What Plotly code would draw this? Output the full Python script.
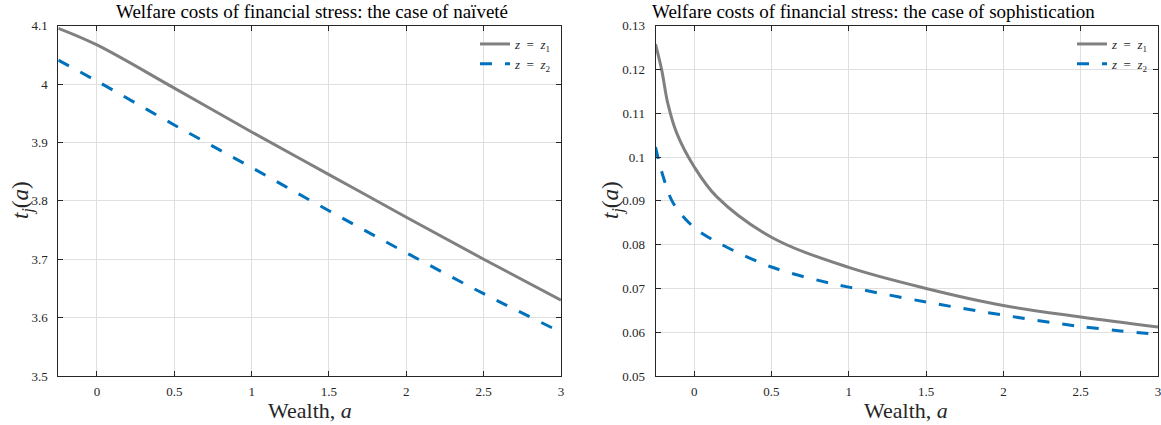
import plotly.graph_objects as go

# ---------------- data ----------------
a_left = [-0.25, 0.0, 0.5, 1.0, 1.5, 2.0, 2.5, 3.0]
naive_z1 = [4.0955, 4.067, 3.993, 3.918, 3.845, 3.772, 3.700, 3.630]
naive_z2 = [4.041, 4.005, 3.930, 3.857, 3.783, 3.711, 3.641, 3.575]

a_soph_z1 = [-0.25, -0.21, -0.17, -0.112, 0.0, 0.147, 0.5, 1.0, 1.5, 2.0, 2.5, 3.0]
soph_z1 = [0.1258, 0.1199, 0.1122, 0.1054, 0.0978, 0.0909, 0.0817, 0.0748, 0.0700, 0.0661, 0.0635, 0.0612]
a_soph_z2 = [-0.25, -0.2, -0.134, 0.0, 0.147, 0.5, 0.89, 1.0, 1.5, 2.0, 2.5, 3.0]
soph_z2 = [0.1023, 0.0955, 0.0894, 0.0839, 0.0806, 0.0749, 0.0711, 0.0703, 0.0669, 0.0639, 0.0613, 0.0595]

x_ticks = [0, 0.5, 1, 1.5, 2, 2.5, 3]
x_ticklabels = ["0", "0.5", "1", "1.5", "2", "2.5", "3"]
y_ticks_left = [3.5, 3.6, 3.7, 3.8, 3.9, 4.0, 4.1]
y_ticklabels_left = ["3.5", "3.6", "3.7", "3.8", "3.9", "4", "4.1"]
y_ticks_right = [0.05, 0.06, 0.07, 0.08, 0.09, 0.10, 0.11, 0.12, 0.13]
y_ticklabels_right = ["0.05", "0.06", "0.07", "0.08", "0.09", "0.1", "0.11", "0.12", "0.13"]

titles = ["Welfare costs of financial stress: the case of naïveté",
          "Welfare costs of financial stress: the case of sophistication"]
legend_names = ["<i>z</i>\u2002=\u2002<i>z</i><sub>1</sub>", "<i>z</i>\u2002=\u2002<i>z</i><sub>2</sub>"]

# ---------------- style ----------------
W, H = 1161, 425
FONT = "'Liberation Serif', 'Times New Roman', 'DejaVu Serif', serif"
AX = "#262626"
GRID = "#dfdfdf"
GREY = "#808080"
BLUE = "#0072BD"

def px_x(p):
    return p / W

def px_y(p):
    return 1 - p / H

fig = go.Figure()

fig.add_trace(go.Scatter(x=a_left, y=naive_z1, mode="lines", name=legend_names[0],
                         line=dict(color=GREY, width=3, shape="spline"),
                         xaxis="x", yaxis="y", legend="legend"))
fig.add_trace(go.Scatter(x=a_left, y=naive_z2, mode="lines", name=legend_names[1],
                         line=dict(color=BLUE, width=3, dash="12px,13px", shape="spline"),
                         xaxis="x", yaxis="y", legend="legend"))
fig.add_trace(go.Scatter(x=a_soph_z1, y=soph_z1, mode="lines", name=legend_names[0],
                         line=dict(color=GREY, width=3, shape="spline"),
                         xaxis="x2", yaxis="y2", legend="legend2"))
fig.add_trace(go.Scatter(x=a_soph_z2, y=soph_z2, mode="lines", name=legend_names[1],
                         line=dict(color=BLUE, width=3, dash="12px,13px", shape="spline"),
                         xaxis="x2", yaxis="y2", legend="legend2"))

def xaxis(domain, anchor):
    return dict(domain=domain, anchor=anchor, range=[-0.25, 3],
                tickmode="array", tickvals=x_ticks, ticktext=x_ticklabels,
                ticks="inside", ticklen=5, tickcolor=AX, tickwidth=1,
                showline=True, linecolor=AX, linewidth=1, mirror="ticks",
                showgrid=True, gridcolor=GRID, gridwidth=1, zeroline=False,
                automargin=False, ticklabelstandoff=3, ticklabeloverflow="allow",
                tickfont=dict(family=FONT, size=13, color=AX))

def yaxis(domain, anchor, rng, tv, tt):
    return dict(domain=domain, anchor=anchor, range=rng,
                tickmode="array", tickvals=tv, ticktext=tt,
                ticks="inside", ticklen=5, tickcolor=AX, tickwidth=1,
                showline=True, linecolor=AX, linewidth=1, mirror="ticks",
                showgrid=True, gridcolor=GRID, gridwidth=1, zeroline=False,
                automargin=False, ticklabelstandoff=7, ticklabeloverflow="allow",
                tickfont=dict(family=FONT, size=13, color=AX))

ydom = [px_y(376), px_y(25.7)]
fig.update_layout(
    width=W, height=H,
    margin=dict(l=0, r=0, t=0, b=0, pad=0, autoexpand=False),
    paper_bgcolor="white", plot_bgcolor="white",
    xaxis=xaxis([px_x(58.3), px_x(561)], "y"),
    yaxis=yaxis(ydom, "x", [3.5, 4.1], y_ticks_left, y_ticklabels_left),
    xaxis2=xaxis([px_x(655.5), px_x(1158)], "y2"),
    yaxis2=yaxis(ydom, "x2", [0.05, 0.13], y_ticks_right, y_ticklabels_right),
    legend=dict(x=px_x(557), y=px_y(29), xanchor="right", yanchor="top",
                bgcolor="rgba(0,0,0,0)", borderwidth=0,
                font=dict(family=FONT, size=13, color=AX),
                tracegroupgap=0, itemwidth=30),
    legend2=dict(x=px_x(1154), y=px_y(29), xanchor="right", yanchor="top",
                 bgcolor="rgba(0,0,0,0)", borderwidth=0,
                 font=dict(family=FONT, size=13, color=AX),
                 tracegroupgap=0, itemwidth=30),
    showlegend=True,
)

annotations = [
    dict(text=titles[0], x=px_x(312), y=px_y(12), xref="paper", yref="paper",
         showarrow=False, xanchor="center", yanchor="middle",
         font=dict(family=FONT, size=19, color="black")),
    dict(text=titles[1], x=px_x(873.5), y=px_y(12), xref="paper", yref="paper",
         showarrow=False, xanchor="center", yanchor="middle",
         font=dict(family=FONT, size=19, color="black")),
    dict(text="Wealth, <i>a</i>", x=px_x(310), y=px_y(410), xref="paper", yref="paper",
         showarrow=False, xanchor="center", yanchor="middle",
         font=dict(family=FONT, size=22, color=AX)),
    dict(text="Wealth, <i>a</i>", x=px_x(906), y=px_y(410), xref="paper", yref="paper",
         showarrow=False, xanchor="center", yanchor="middle",
         font=dict(family=FONT, size=22, color=AX)),
    dict(text="<i>t</i><sub><i>j</i></sub>(<i>a</i>)", x=px_x(22), y=px_y(200), xref="paper", yref="paper",
         showarrow=False, xanchor="center", yanchor="middle", textangle=-90,
         font=dict(family=FONT, size=23, color=AX)),
    dict(text="<i>t</i><sub><i>j</i></sub>(<i>a</i>)", x=px_x(612), y=px_y(200), xref="paper", yref="paper",
         showarrow=False, xanchor="center", yanchor="middle", textangle=-90,
         font=dict(family=FONT, size=23, color=AX)),
]
fig.update_layout(annotations=annotations)

fig.write_html("out.html",
               config={"displayModeBar": False},
               post_script="document.body.style.margin='0px';")
